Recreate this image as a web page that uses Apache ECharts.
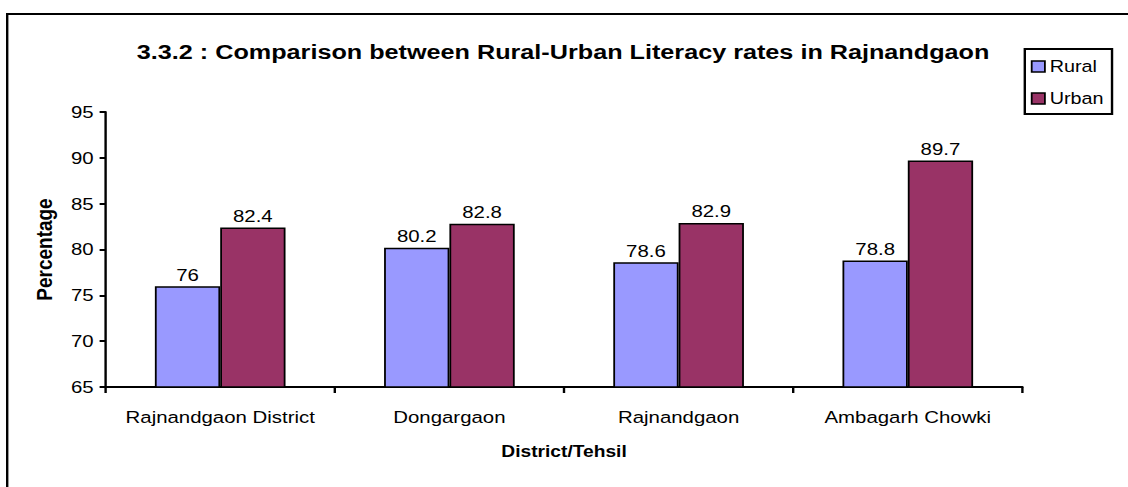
<!DOCTYPE html>
<html>
<head>
<meta charset="utf-8">
<script src="https://cdn.jsdelivr.net/npm/echarts@6/dist/echarts.min.js"></script>
<style>
  html, body { margin: 0; padding: 0; background: #fff; overflow: hidden; }
  /* the chart is laid out at 940px wide and stretched to fill the 1128px window */
  #chart { width: 940px; height: 487px; transform: scaleX(1.2); transform-origin: 0 0; }
</style>
</head>
<body>
<div id="chart"></div>
<script>
const categories = ['Rajnandgaon District', 'Dongargaon', 'Rajnandgaon', 'Ambagarh Chowki'];
const ruralValues = [76, 80.2, 78.6, 78.8];
const urbanValues = [82.4, 82.8, 82.9, 89.7];
const yTicks = { min: 65, max: 95, interval: 5 };

const FONT = '"Liberation Sans", Arial, sans-serif';
const chart = echarts.init(document.getElementById('chart'), null, { renderer: 'svg' });

const barStyle = (color) => ({ color: color, borderColor: '#000', borderWidth: 1.5 });
const valueLabel = {
  show: true, position: 'top', distance: 3,
  color: '#000', fontFamily: FONT, fontSize: 17
};

chart.setOption({
  backgroundColor: '#fff',
  animation: false,
  graphic: [{
    type: 'rect', silent: true,
    shape: { x: 6, y: 14, width: 1000, height: 600 },
    style: { fill: 'none', stroke: '#000', lineWidth: 2 }
  }],
  title: {
    text: '3.3.2 : Comparison between Rural-Urban Literacy rates in Rajnandgaon',
    left: 109, top: 36,
    textStyle: { fontFamily: FONT, fontSize: 21, fontWeight: 'bold', color: '#000' }
  },
  legend: {
    orient: 'vertical', left: 854, top: 49,
    padding: [8, 7, 6, 5], itemGap: 13,
    itemWidth: 11, itemHeight: 11, icon: 'rect',
    borderColor: '#000', borderWidth: 2,
    itemStyle: { borderColor: '#000', borderWidth: 1.5 },
    textStyle: { fontFamily: FONT, fontSize: 16.5, color: '#000', lineHeight: 19, padding: [0, 0, 0, -1] },
    data: ['Rural', 'Urban']
  },
  grid: { left: 88, right: 88, top: 112, bottom: 100, containLabel: false },
  xAxis: {
    type: 'category', data: categories,
    name: 'District/Tehsil', nameLocation: 'middle', nameGap: 57,
    nameTextStyle: { fontFamily: FONT, fontSize: 16, fontWeight: 'bold', color: '#000' },
    axisLine: { lineStyle: { color: '#000', width: 2 } },
    axisTick: { show: true, length: 6, lineStyle: { color: '#000', width: 2 } },
    axisLabel: { fontFamily: FONT, fontSize: 17, color: '#000', margin: 22, interval: 0 }
  },
  yAxis: {
    type: 'value', min: yTicks.min, max: yTicks.max, interval: yTicks.interval,
    name: 'Percentage', nameLocation: 'middle', nameGap: 42,
    nameTextStyle: { fontFamily: FONT, fontSize: 19, fontWeight: 'bold', color: '#000' },
    axisLine: { show: true, lineStyle: { color: '#000', width: 2 } },
    axisTick: { show: true, length: 5, lineStyle: { color: '#000', width: 2 } },
    axisLabel: { fontFamily: FONT, fontSize: 17, color: '#000', margin: 10 },
    splitLine: { show: false }
  },
  series: [
    {
      name: 'Rural', type: 'bar', data: ruralValues,
      barGap: '0%', barCategoryGap: '43%',
      itemStyle: barStyle('#9999FF'), label: valueLabel
    },
    {
      name: 'Urban', type: 'bar', data: urbanValues,
      itemStyle: barStyle('#993366'), label: valueLabel
    }
  ]
});
</script>
</body>
</html>
